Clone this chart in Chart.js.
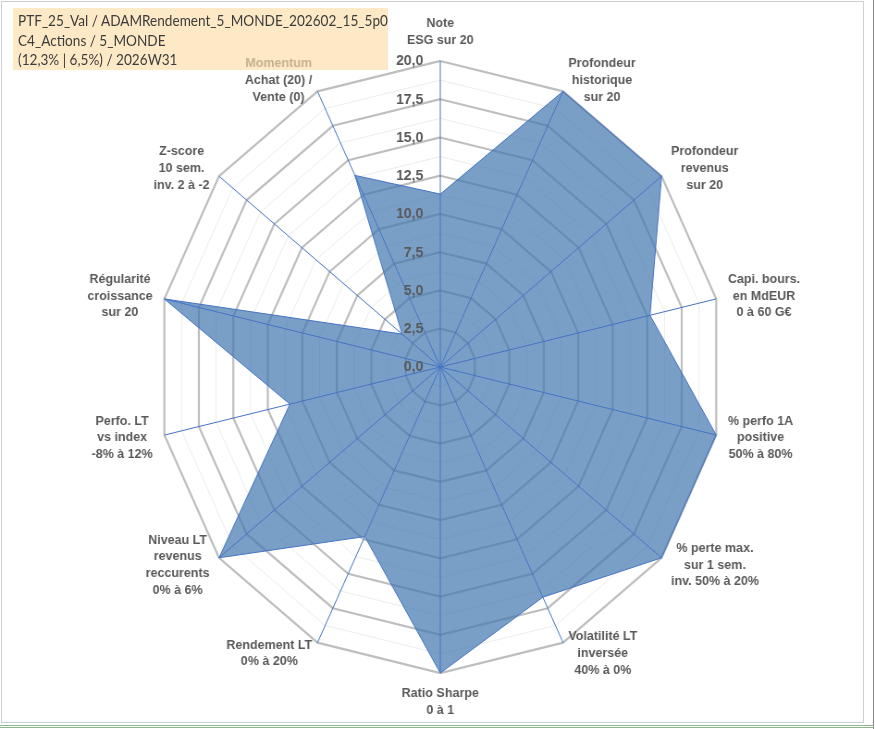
<!DOCTYPE html>
<html>
<head>
<meta charset="utf-8">
<script src="https://cdn.jsdelivr.net/npm/chart.js@4/dist/chart.umd.min.js"></script>
<style>
  html, body { margin:0; padding:0; background:#ffffff; width:875px; height:729px; overflow:hidden; }
  #wrap { position:absolute; left:0; top:0; width:875px; height:729px; overflow:hidden; }
  #c { position:absolute; left:0; top:0; transform-origin:0 0; transform:scaleX(0.92495); }
  #frame { position:absolute; left:1px; top:1px; width:861px; height:720px; border:1px solid #CFCFCF; pointer-events:none; }
  #edgeR { position:absolute; left:873px; top:0; width:1px; height:729px; background:#8A8A8A; }
  #edgeB1 { position:absolute; left:0; top:725px; width:874px; height:1px; background:#8DB38D; }
  #edgeB2 { position:absolute; left:0; top:727px; width:874px; height:1px; background:#8DB38D; }
  #title { position:absolute; left:13px; top:8px; width:375px; height:62px;
           background:rgba(252,222,168,0.66); }
  #titleText { position:absolute; left:5px; top:3px; transform-origin:0 0; transform:scaleX(0.895);
           color:#3C3C3C; font-family:Lato, "Open Sans", sans-serif; font-size:15.2px; line-height:19.5px; white-space:nowrap; }
</style>
</head>
<body>
<div id="wrap">
  <canvas id="c" width="946" height="729"></canvas>
  <div id="frame"></div>
  <div id="edgeR"></div>
  <div id="edgeB1"></div>
  <div id="edgeB2"></div>
  <div id="title"><div id="titleText">PTF_25_Val / ADAMRendement_5_MONDE_202602_15_5p0<br>C4_Actions / 5_MONDE<br>(12,3% | 6,5%) / 2026W31</div></div>
</div>
<script>
// ---- data ----
const categories = [
  ["Note", "ESG sur 20"],
  ["Profondeur", "historique", "sur 20"],
  ["Profondeur", "revenus", "sur 20"],
  ["Capi. bours.", "en MdEUR", "0 à 60 G€"],
  ["% perfo 1A", "positive", "50% à 80%"],
  ["% perte max.", "sur 1 sem.", "inv. 50% à 20%"],
  ["Volatilité LT", "inversée", "40% à 0%"],
  ["Ratio Sharpe", "0 à 1"],
  ["Rendement LT", "0% à 20%"],
  ["Niveau LT", "revenus", "reccurents", "0% à 6%"],
  ["Perfo. LT", "vs index", "-8% à 12%"],
  ["Régularité", "croissance", "sur 20"],
  ["Z-score", "10 sem.", "inv. 2 à -2"],
  ["Momentum", "Achat (20) /", "Vente (0)"]
];
const scores = [11.3, 20, 20, 15.2, 20, 20, 16.7, 20, 12.3, 20, 10.9, 20, 3.45, 13.9];
const tickValues = [0, 2.5, 5, 7.5, 10, 12.5, 15, 17.5, 20];
const tickLabels = ["0,0", "2,5", "5,0", "7,5", "10,0", "12,5", "15,0", "17,5", "20,0"];

const KX = 0.92495; // horizontal compression applied to the canvas via CSS

const overlayPlugin = {
  id: 'overlay',
  afterDatasetsDraw(chart) {
    const ctx = chart.ctx;
    const s = chart.scales.r;
    const n = categories.length;
    // angle lines on top of the fill
    ctx.save();
    ctx.strokeStyle = '#4472C4';
    ctx.lineWidth = 1;
    for (let i = 0; i < n; i++) {
      const p = s.getPointPosition(i, s.drawingArea);
      ctx.beginPath();
      ctx.moveTo(s.xCenter, s.yCenter);
      ctx.lineTo(p.x, p.y);
      ctx.stroke();
    }
    ctx.restore();

    // text drawn in un-compressed (screen) coordinates
    ctx.save();
    ctx.scale(1 / KX, 1);
    // tick labels
    ctx.font = 'bold 14px "Liberation Sans", Arial, sans-serif';
    ctx.fillStyle = '#595959';
    ctx.textAlign = 'right';
    ctx.textBaseline = 'middle';
    tickValues.forEach((v, i) => {
      const d = s.getDistanceFromCenterForValue(v);
      ctx.fillText(tickLabels[i], s.xCenter * KX - 17, s.yCenter - d + 0.5);
    });
    // point labels
    const LH = 16.7, G = 12;
    ctx.font = 'bold 12.5px "Liberation Sans", Arial, sans-serif';
    ctx.textAlign = 'center';
    for (let i = 0; i < n; i++) {
      const lines = categories[i];
      const p = s.getPointPosition(i, s.drawingArea);
      const vx = p.x * KX, vy = p.y;
      const ang = s.getIndexAngle(i) - Math.PI / 2;
      const dx = Math.cos(ang), dy = Math.sin(ang);
      let w = 0;
      lines.forEach(l => { w = Math.max(w, ctx.measureText(l).width); });
      const h = lines.length * LH;
      let cx, cy;
      if (Math.abs(dx) < 1e-6) {
        cx = vx; cy = vy + Math.sign(dy) * (h / 2 + G);
      } else {
        cx = vx + G * dx + Math.sign(dx) * w / 2;
        cy = vy + G * dy;
      }
      lines.forEach((l, j) => {
        ctx.fillText(l, cx, cy - h / 2 + LH * (j + 0.5));
      });
    }
    ctx.restore();
  }
};

new Chart(document.getElementById('c'), {
  type: 'radar',
  data: {
    labels: categories,
    datasets: [{
      data: scores,
      backgroundColor: 'rgba(65,118,175,0.7)',
      borderColor: '#4472C4',
      borderWidth: 1,
      pointRadius: 0,
      pointHoverRadius: 0,
      fill: true
    }]
  },
  options: {
    responsive: false,
    animation: false,
    layout: { padding: { left: 170, right: 164, top: 61, bottom: 56 } },
    plugins: { legend: { display: false }, tooltip: { enabled: false }, title: { display: false } },
    scales: {
      r: {
        min: 0, max: 20,
        ticks: { stepSize: 1.25, display: false },
        pointLabels: { display: false },
        angleLines: { display: false },
        grid: {
          circular: false,
          color: (c) => (c.tick && (c.tick.value % 2.5 === 0)) ? '#BEBEBE' : '#EBEBEB',
          lineWidth: (c) => (c.tick && (c.tick.value % 2.5 === 0)) ? 2.2 : 1
        }
      }
    }
  },
  plugins: [overlayPlugin]
});
</script>
</body>
</html>
